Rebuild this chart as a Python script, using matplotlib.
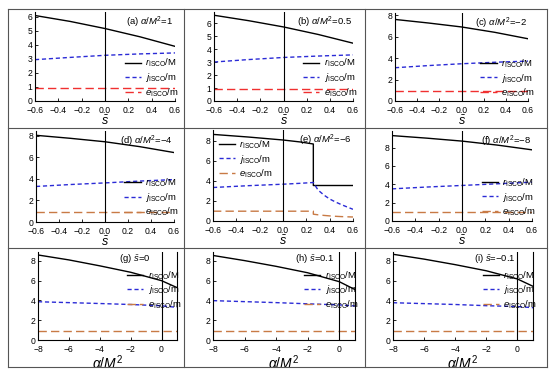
import matplotlib
matplotlib.use('Agg')
import matplotlib.pyplot as plt
from matplotlib.lines import Line2D

plt.rcParams['font.family'] = ['Liberation Sans', 'DejaVu Sans']
plt.rcParams['mathtext.fontset'] = 'custom'
plt.rcParams['mathtext.rm'] = 'Liberation Sans'
plt.rcParams['mathtext.it'] = 'Liberation Sans:italic'

# ---------------- dados ----------------
s_vals = [-0.6, -0.3, 0.0, 0.3, 0.6]

# painéis (a)-(f): r, j, e em função de s
r_a = [6.10, 5.68, 5.17, 4.58, 3.90]
j_a = [2.95, 3.11, 3.26, 3.36, 3.43]
e_a = [0.93, 0.93, 0.93, 0.93, 0.93]

r_b = [6.60, 6.18, 5.70, 5.12, 4.45]
j_b = [3.00, 3.19, 3.35, 3.46, 3.55]
e_b = [0.94, 0.94, 0.94, 0.94, 0.94]

r_c = [7.60, 7.27, 6.90, 6.40, 5.80]
j_c = [3.10, 3.30, 3.47, 3.61, 3.72]
e_c = [0.95, 0.95, 0.95, 0.95, 0.95]

r_d = [8.05, 7.77, 7.45, 7.00, 6.45]
j_d = [3.30, 3.48, 3.63, 3.80, 3.94]
e_d = [0.97, 0.97, 0.97, 0.97, 0.97]

# painel (e): salto em s ~ 0.26
s_e = [-0.6, -0.3, 0.0, 0.15, 0.26, 0.26, 0.30, 0.35, 0.40, 0.45, 0.50, 0.55, 0.60]
r_e = [8.66, 8.40, 8.10, 7.90, 7.70, 3.55, 3.55, 3.55, 3.55, 3.55, 3.55, 3.55, 3.55]
j_e = [3.35, 3.53, 3.68, 3.77, 3.85, 3.85, 3.10, 2.60, 2.20, 1.90, 1.64, 1.40, 1.17]
e_e = [0.98, 0.98, 0.98, 0.98, 0.98, 0.68, 0.62, 0.56, 0.51, 0.47, 0.44, 0.42, 0.40]

r_f = [9.30, 9.02, 8.70, 8.27, 7.75]
j_f = [3.50, 3.70, 3.87, 4.05, 4.23]
e_f = [0.96, 0.96, 0.96, 0.96, 0.96]

# painéis (g)-(i): r, j, e em função de alpha/M^2
a_vals = [-8, -6, -4, -2, 0, 1]
r_g = [8.60, 8.10, 7.50, 6.85, 6.00, 5.30]
j_g = [3.87, 3.78, 3.69, 3.59, 3.46, 3.30]
e_g = [0.94, 0.94, 0.94, 0.94, 0.94, 0.94]

r_h = [8.55, 8.03, 7.45, 6.80, 5.90, 5.10]
j_h = [3.98, 3.88, 3.78, 3.66, 3.55, 3.44]
e_h = [0.93, 0.93, 0.93, 0.93, 0.93, 0.93]

r_i = [8.67, 8.18, 7.62, 7.00, 6.17, 5.43]
j_i = [3.77, 3.68, 3.59, 3.47, 3.38, 3.27]
e_i = [0.95, 0.95, 0.95, 0.95, 0.95, 0.95]

titulos = ['(a) $\\alpha/M^2$=1', '(b) $\\alpha/M^2$=0.5', '(c) $\\alpha/M^2$=\u22122',
           '(d) $\\alpha/M^2$=\u22124', '(e) $\\alpha/M^2$=\u22126', '(f) $\\alpha/M^2$=\u22128',
           '(g) $\\bar{s}$=0', '(h) $\\bar{s}$=0.1', '(i) $\\bar{s}$=\u22120.1']

# ---------------- figura ----------------
W, H = 550, 378
fig = plt.figure(figsize=(W / 100, H / 100), dpi=100)

def rect(x0, x1, y0, y1):
    # pixels -> coordenadas da figura
    return [x0 / W, 1 - y1 / H, (x1 - x0) / W, (y1 - y0) / H]

caixas = [rect(35, 175, 12, 101), rect(214, 353, 12, 101), rect(395, 528, 13, 101),
          rect(36, 174, 131, 222), rect(213, 353, 130, 221), rect(392, 532, 131, 221),
          rect(38, 177, 252, 340), rect(213, 355, 252, 340), rect(393, 533, 252, 340)]

dados = [(s_vals, r_a, j_a, e_a), (s_vals, r_b, j_b, e_b), (s_vals, r_c, j_c, e_c),
         (s_vals, r_d, j_d, e_d), (s_e, r_e, j_e, e_e), (s_vals, r_f, j_f, e_f),
         (a_vals, r_g, j_g, e_g), (a_vals, r_h, j_h, e_h), (a_vals, r_i, j_i, e_i)]

ylims = [6.35, 6.85, 8.2, 8.45, 9.1, 9.8, 8.9, 8.9, 8.9]
yticks = [range(0, 7), range(0, 7), range(0, 9, 2), range(0, 9, 2), range(0, 9, 2),
          range(0, 9, 2), range(0, 9, 2), range(0, 9, 2), range(0, 9, 2)]

cor_r = 'black'
cor_j = '#2b2bd6'
cor_e_top = '#f03030'
cor_e_bot = '#c87a45'

leg_kw = dict(loc='upper left', frameon=False, fontsize=6.8, handlelength=1.7,
              handletextpad=0.5, labelspacing=0.2, borderpad=0.1)

for k in range(9):
    ax = fig.add_axes(caixas[k])
    x, r, j, e = dados[k]
    cor_e = cor_e_top if k < 3 else cor_e_bot
    ax.plot(x, r, color=cor_r, lw=1.0, label='$r_{\\rm ISCO}$/M')
    ax.plot(x, j, color=cor_j, lw=1.0, ls=(0, (3, 2)), label='$j_{\\rm ISCO}$/m')
    ax.plot(x, e, color=cor_e, lw=1.0, ls=(0, (6, 3)), label='$e_{\\rm ISCO}$/m')
    ax.axvline(0, color='black', lw=0.8)

    ax.set_ylim(0, ylims[k])
    ax.set_yticks(list(yticks[k]))
    if k < 6:
        ax.set_xlim(-0.6, 0.6)
        ax.set_xticks([-0.6, -0.4, -0.2, 0.0, 0.2, 0.4, 0.6])
        ax.set_xticklabels(['\u22120.6', '\u22120.4', '\u22120.2', '0.0', '0.2', '0.4', '0.6'])
        ax.set_xlabel('$\\bar{s}$', fontsize=9, labelpad=0)
        ax.spines['right'].set_visible(False)
    else:
        ax.set_xlim(-8, 1)
        ax.set_xticks([-8, -6, -4, -2, 0])
        ax.set_xticklabels(['\u22128', '\u22126', '\u22124', '\u22122', '0'])
        ax.set_xlabel('$\\alpha/M^2$', fontsize=10, labelpad=0)
        ax.spines['right'].set_linewidth(0.8)
    ax.spines['top'].set_visible(False)
    for sp in ['left', 'bottom']:
        ax.spines[sp].set_linewidth(0.8)
    ax.tick_params(direction='in', length=2.5, width=0.6, labelsize=6.2)
    ax.tick_params(axis='x', pad=3.5)
    ax.tick_params(axis='y', pad=2.0, right=False)

    # rótulo do painel
    if k < 6:
        ax.text(0.99, 0.97, titulos[k], transform=ax.transAxes, ha='right', va='top', fontsize=6.8)
    else:
        ax.text(0.58, 1.0, titulos[k], transform=ax.transAxes, ha='left', va='top', fontsize=6.8)

    # legenda
    if k == 4:
        ax.legend(bbox_to_anchor=(0.0, 0.97), **leg_kw)
    elif k < 6:
        ax.legend(bbox_to_anchor=(0.6, 0.56), **leg_kw)
    else:
        ax.legend(bbox_to_anchor=(0.6, 0.87), **leg_kw)

# linhas da tabela em volta dos painéis
xs = [8, 184, 365, 547]
ys = [9, 128, 248, 367]
for xv in xs:
    fig.add_artist(Line2D([xv / W, xv / W], [1 - ys[0] / H, 1 - ys[-1] / H],
                          transform=fig.transFigure, color='#555555', lw=0.8))
for yv in ys:
    fig.add_artist(Line2D([xs[0] / W, xs[-1] / W], [1 - yv / H, 1 - yv / H],
                          transform=fig.transFigure, color='#555555', lw=0.8))

fig.savefig('out.png', dpi=100)
